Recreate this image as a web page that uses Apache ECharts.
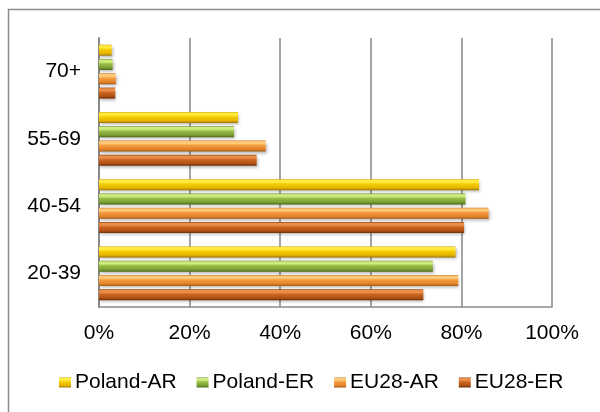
<!DOCTYPE html>
<html>
<head>
<meta charset="utf-8">
<script src="https://cdn.jsdelivr.net/npm/echarts@6/dist/echarts.min.js"></script>
<style>
  html, body { margin: 0; padding: 0; background: #fff; }
  #chart { width: 600px; height: 412px; }
</style>
</head>
<body>
<div id="chart"></div>
<script>
// Age groups (bottom to top) and rates in percent
const ageGroups = ['20-39', '40-54', '55-69', '70+'];
const polandAR = [78.7, 83.9, 30.7, 2.8];
const polandER = [73.7, 80.9, 29.8, 3.0];
const eu28AR = [79.3, 86.0, 36.8, 3.7];
const eu28ER = [71.6, 80.6, 34.8, 3.6];
const xTicks = { min: 0, max: 100, step: 20 };

// Bevelled bar fill: darker rim, bright highlight band, darker lower edge
function bevel(rim, hi, mid, low, edge) {
  return new echarts.graphic.LinearGradient(0, 0, 0, 1, [
    { offset: 0, color: rim },
    { offset: 0.1, color: hi },
    { offset: 0.28, color: hi },
    { offset: 0.45, color: mid },
    { offset: 0.8, color: low },
    { offset: 1, color: edge }
  ]);
}

const palette = {
  'Poland-AR': bevel('#CFA000', '#FFEA40', '#F5CC00', '#E6B400', '#9E7800'),
  'Poland-ER': bevel('#67872A', '#CDEB7C', '#98BE48', '#7A9E34', '#4C6A1A'),
  'EU28-AR': bevel('#C87020', '#FFC97A', '#F39A3C', '#E2822A', '#A45814'),
  'EU28-ER': bevel('#8A400C', '#E98E48', '#CC6622', '#AE5014', '#6A2C06')
};

function barSeries(name, values) {
  return {
    name: name,
    type: 'bar',
    data: values,
    barWidth: 11,
    barGap: '30%',
    itemStyle: {
      color: palette[name],
      shadowBlur: 3,
      shadowColor: 'rgba(0,0,0,0.28)',
      shadowOffsetX: 1,
      shadowOffsetY: 2
    }
  };
}

const chart = echarts.init(document.getElementById('chart'), null, { renderer: 'canvas' });
const font = 'Liberation Sans, Arial, sans-serif';

chart.setOption({
  animation: false,
  textStyle: { fontFamily: font },
  graphic: [{
    type: 'rect',
    shape: { x: 8.5, y: 9.5, width: 700, height: 500 },
    style: { fill: 'none', stroke: '#8c8c8c', lineWidth: 1.5 },
    silent: true
  }],
  grid: { left: 99, right: 48, top: 38, bottom: 105, containLabel: false },
  legend: {
    data: ['Poland-AR', 'Poland-ER', 'EU28-AR', 'EU28-ER'],
    left: 59,
    top: 372,
    padding: 0,
    itemWidth: 12,
    itemHeight: 10,
    itemGap: 20,
    icon: 'rect',
    textStyle: { fontSize: 21, color: '#000', fontFamily: font, padding: [0, 0, 0, -1] }
  },
  xAxis: {
    type: 'value',
    min: xTicks.min,
    max: xTicks.max,
    interval: xTicks.step,
    axisLine: { show: true, lineStyle: { color: '#8a8a8a', width: 1.5 } },
    axisTick: { show: false },
    axisLabel: { formatter: '{value}%', fontSize: 21, color: '#000', margin: 16, fontFamily: font },
    splitLine: { show: true, lineStyle: { color: '#878787', width: 1.5 } }
  },
  yAxis: {
    type: 'category',
    data: ageGroups,
    axisLine: { show: true, lineStyle: { color: '#8a8a8a', width: 2 } },
    axisTick: { show: false },
    axisLabel: { fontSize: 21, color: '#000', margin: 18, fontFamily: font }
  },
  // First series sits at the top of each group
  series: [
    barSeries('Poland-AR', polandAR),
    barSeries('Poland-ER', polandER),
    barSeries('EU28-AR', eu28AR),
    barSeries('EU28-ER', eu28ER)
  ]
});
</script>
</body>
</html>
